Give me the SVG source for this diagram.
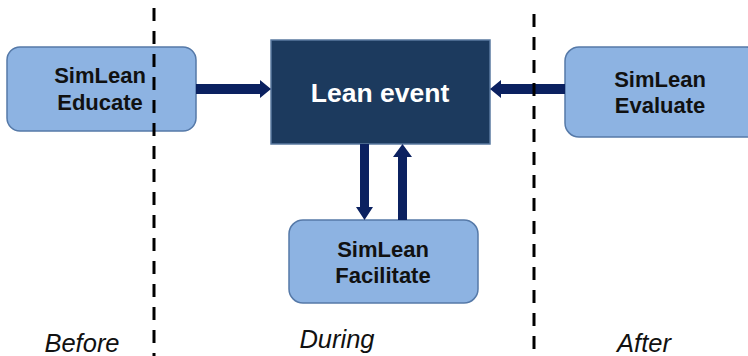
<svg xmlns="http://www.w3.org/2000/svg" width="748" height="356" viewBox="0 0 748 356">
<style>
.box{fill:#8db3e2;stroke:#5579a8;stroke-width:1.5}
.dark{fill:#1c3a5e;stroke:#5a7aa0;stroke-width:1.5}
.lbl{font-family:"Liberation Sans",Arial,sans-serif;font-weight:bold;font-size:22px;fill:#111;text-anchor:middle}
.wl{font-family:"Liberation Sans",Arial,sans-serif;font-weight:bold;font-size:26.5px;fill:#fff;text-anchor:middle}
.ph{font-family:"Liberation Sans",Arial,sans-serif;font-style:italic;font-size:25.5px;fill:#111;text-anchor:middle}
.arr{fill:#0b2160}
.dash{stroke:#000;stroke-width:3;stroke-dasharray:13 10;fill:none}
</style>
<rect width="748" height="356" fill="#fff"/>
<g id="educate">
<rect class="box" x="7" y="47" width="189" height="84" rx="13"/>
<text class="lbl" x="100" y="83">SimLean</text>
<text class="lbl" x="100" y="110">Educate</text>
</g>
<g id="lean-event">
<rect class="dark" x="271" y="40" width="219" height="104"/>
<text class="wl" x="380" y="102">Lean event</text>
</g>
<g id="evaluate">
<rect class="box" x="565" y="47" width="195" height="90" rx="14"/>
<text class="lbl" x="660" y="87">SimLean</text>
<text class="lbl" x="660" y="113">Evaluate</text>
</g>
<g id="facilitate">
<rect class="box" x="289" y="220" width="189" height="83" rx="14"/>
<text class="lbl" x="383" y="257">SimLean</text>
<text class="lbl" x="383" y="283">Facilitate</text>
</g>
<g id="connectors">
<path class="arr" d="M196 84 H260 V80 L271 89 L260 98 V94 H196 Z"/>
<path class="arr" d="M565 84 H501 V80 L490 89 L501 98 V94 H565 Z"/>
<path class="arr" d="M360 144 V207 H356 L364.5 220 L373 207 H369 V144 Z"/>
<path class="arr" d="M398 220 V157 H393 L402.5 144 L412 157 H407 V220 Z"/>
</g>
<g id="dividers">
<line class="dash" x1="154" y1="8" x2="154" y2="356"/>
<line class="dash" x1="534" y1="14" x2="534" y2="356"/>
</g>
<g id="phases">
<text class="ph" x="82" y="352">Before</text>
<text class="ph" x="337" y="348">During</text>
<text class="ph" x="644" y="352">After</text>
</g>
</svg>
